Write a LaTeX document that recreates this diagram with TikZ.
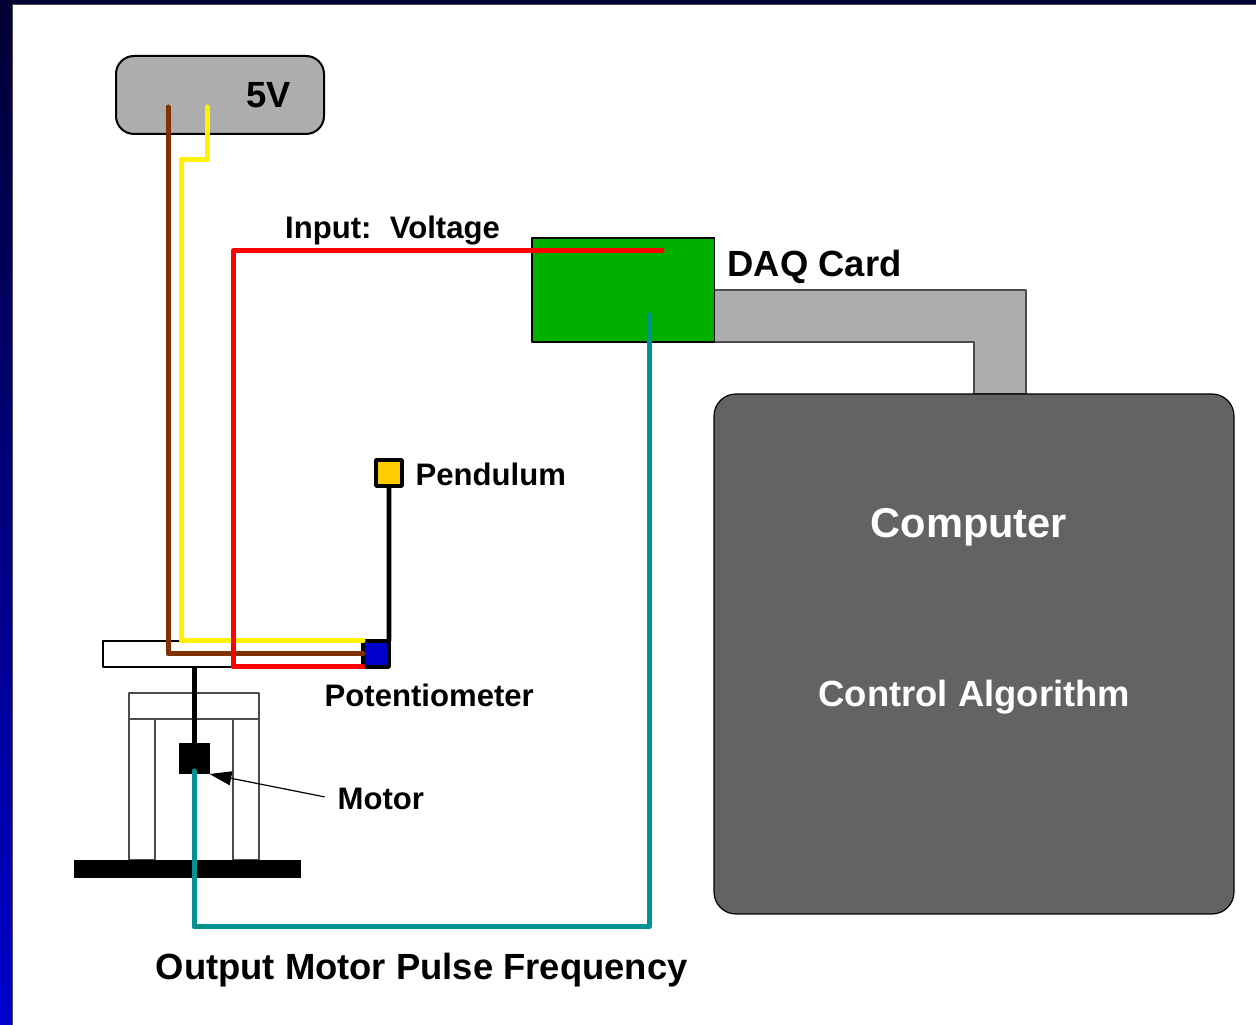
\documentclass[tikz,border=0pt]{standalone}
\usepackage{fontspec}
\setmainfont{Liberation Sans}
\usepackage{tikz}
\usetikzlibrary{arrows.meta}
\usetikzlibrary{shadings}
\definecolor{panelgray}{rgb}{0.68,0.68,0.68}
\definecolor{compgray}{rgb}{0.396,0.384,0.388}
\definecolor{daqgreen}{rgb}{0.0,0.69,0.0}
\definecolor{wirebrown}{rgb}{0.5,0.2,0.0}
\definecolor{wireteal}{rgb}{0.0,0.57,0.57}
\definecolor{potblue}{rgb}{0.0,0.0,0.8}
\definecolor{bobyellow}{rgb}{1.0,0.8,0.0}
\definecolor{edgegray}{rgb}{0.3,0.3,0.3}
\tikzset{
  box/.style={draw,rectangle,inner sep=0pt,outer sep=0pt},
  wire/.style={line width=5bp,line cap=round,line join=round},
  lab/.style={anchor=base west,inner sep=0pt,font=\fontsize{31.1bp}{36bp}\selectfont\bfseries},
  biglab/.style={anchor=base west,inner sep=0pt,font=\fontsize{36.4bp}{42bp}\selectfont\bfseries},
}
\begin{document}
\begin{tikzpicture}[>=latex,line join=bevel,]
%%
\useasboundingbox (0bp,0bp) rectangle (1256bp,1025bp);
\shade [top color={rgb,1:red,0;green,0;blue,0.2}, bottom color=potblue] (0bp,0bp) rectangle (1256bp,1025bp);
\draw [fill=white,draw=edgegray,line width=1bp] (12.5bp,-5bp) rectangle (1262bp,1020.5bp);
%%
  \draw [fill=panelgray,draw=edgegray,line width=1.5bp] (714bp,735bp) -- (1026bp,735bp) -- (1026bp,631bp) -- (974bp,631bp) -- (974bp,683bp) -- (714bp,683bp) -- cycle;
  \node (supply) at (220bp,930bp) [box,fill=panelgray,line width=2bp,rounded corners=18bp,minimum width=208bp,minimum height=78bp] {};
  \node (daq) at (623.2bp,735bp) [box,fill=daqgreen,line width=1.2bp,minimum width=182.5bp,minimum height=104bp] {};
  \node (computer) at (974bp,371bp) [box,fill=compgray,line width=1.2bp,rounded corners=22bp,minimum width=520bp,minimum height=520bp] {};
  \node (bar) at (233bp,371bp) [box,fill=white,line width=1.2bp,minimum width=260bp,minimum height=26bp] {};
  \node (pot) at (376bp,371bp) [box,fill=potblue,line width=4.6bp,minimum size=26bp] {};
  \node (bob) at (389bp,552bp) [box,fill=bobyellow,line width=4.6bp,minimum size=26bp] {};
  \node (housing) at (194bp,319bp) [box,draw=edgegray,line width=1.5bp,minimum width=130bp,minimum height=26bp] {};
  \node (leg_l) at (142bp,235.5bp) [box,draw=edgegray,line width=1.5bp,minimum width=26bp,minimum height=141bp] {};
  \node (leg_r) at (246bp,235.5bp) [box,draw=edgegray,line width=1.5bp,minimum width=26bp,minimum height=141bp] {};
  \node (base) at (187.5bp,156bp) [box,fill=black,draw=none,minimum width=226.5bp,minimum height=18bp] {};
  \node (motor) at (194bp,266.5bp) [box,fill=black,draw=none,minimum size=31bp] {};
%%
  \coordinate (src_brown) at (168bp,918bp);
  \coordinate (src_yellow) at (207bp,918bp);
  \coordinate (bend_yellow) at (181bp,865bp);
  \coordinate (daq_red) at (662bp,774bp);
  \coordinate (daq_teal) at (649bp,710bp);
  \coordinate (motor_teal) at (194bp,254bp);
  \coordinate (bend_teal) at (194bp,98bp);
%%
  \draw [line width=4.6bp] (bob.south) -- (pot.north east);
  \draw [line width=5bp] (bar.south -| motor.north) -- (motor.north);
  \draw [wire,yellow] (src_yellow) |- (bend_yellow) |- (pot.north west);
  \draw [wire,wirebrown] (src_brown) |- (pot.west);
  \draw [wire,red] (daq_red) -| (bar.south) -- (pot.south west);
  \draw [wire,wireteal] (motor_teal) -- (bend_teal) -| (daq_teal);
%%
  \node (lab_supply) at (246bp,917bp) [biglab] {5V};
  \node (lab_input) at (285bp,786bp) [lab] {Input:\ \ \kern1bp Voltage};
  \node (lab_daq) at (727.5bp,748bp) [biglab] {DAQ Card};
  \node (lab_bob) at (415.5bp,539bp) [lab] {Pendulum};
  \node (lab_pot) at (324.5bp,318bp) [lab] {Potentiometer};
  \node (lab_motor) at (337.5bp,215bp) [lab] {Motor};
  \node (lab_comp) at (870.5bp,487bp) [anchor=base west,inner sep=0pt,text=white,font=\fontsize{41.6bp}{48bp}\selectfont\bfseries] {Computer};
  \node (lab_algo) at (818.5bp,318bp) [biglab,text=white] {Control Algorithm};
  \node (lab_output) at (155.5bp,45bp) [biglab] {Output Motor Pulse Frequency};
%%
  \draw [-{Triangle[length=22bp,width=14bp]},line width=1.2bp,shorten <=13bp] (lab_motor.west) -- (motor.south east);
%
\end{tikzpicture}
\end{document}
